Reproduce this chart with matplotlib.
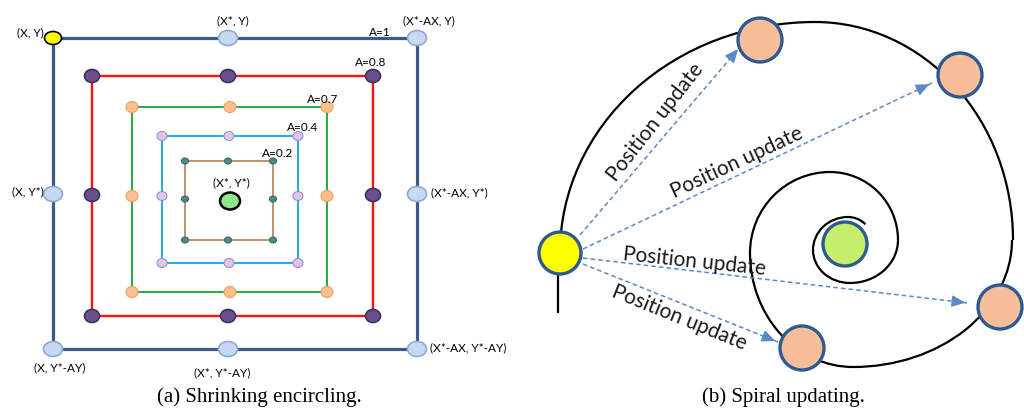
import matplotlib
matplotlib.use("Agg")
import matplotlib.pyplot as plt
from matplotlib.patches import Ellipse, Arc

# ---------- (a) shrinking encircling: nested squares, outer to inner ----------
a_labels = ["A=1", "A=0.8", "A=0.7", "A=0.4", "A=0.2"]
sq_left = [53, 92, 132, 162, 185]
sq_right = [417, 373, 327, 298, 273]
sq_top = [38, 76, 107, 136, 161]
sq_bottom = [349, 316, 292, 263, 240]
sq_midx = [228, 228, 230, 229, 228]
sq_midy = [194, 195, 196, 196, 199]

corner_labels = ["(X, Y)", "(X*, Y)", "(X*-AX, Y)", "(X, Y*)", "(X*-AX, Y*)",
                 "(X, Y*-AY)", "(X*, Y*-AY)", "(X*-AX, Y*-AY)", "(X*, Y*)"]
best_a = (230, 201)

# ---------- (b) spiral updating ----------
# spiral as quarter-ellipse pieces: centre x, centre y, rx, ry, start angle, end angle
spiral_cx = [815, 815, 853, 853, 830, 830, 850, 850, 848, 848]
spiral_cy = [253, 240, 240, 253, 253, 240, 240, 250, 250, 245]
spiral_rx = [255, 198, 159, 103, 80, 68, 48, 37, 35, 26]
spiral_ry = [231, 218, 127, 114, 81, 68, 43, 33, 33, 28]
spiral_t1 = [180, 270, 0, 90, 180, 270, 0, 90, 180, 270]
spiral_t2 = [270, 360, 90, 180, 270, 360, 90, 180, 270, 310]

whale = (560, 253)
prey = (845, 244)
new_x = [760, 960, 1000, 802]
new_y = [40, 75, 307, 348]
arrow_start = [(580, 235), (583, 249), (583, 258), (583, 264)]
arrow_end = [(740, 47), (932, 83), (968, 303), (778, 342)]
upd_text = ["Position update"] * 4
upd_pos = [(655, 122), (737, 163), (694, 262), (679, 318)]
upd_rot = [52, 25, -6, -22]

fig = plt.figure(figsize=(10.24, 4.11), dpi=100)
ax = fig.add_axes([0, 0, 1, 1])
ax.set_xlim(0, 1024)
ax.set_ylim(411, 0)
ax.axis("off")

line_cols = ["#3a5a8c", "#ff1010", "#2eaa4a", "#22aae2", "#b88050"]
line_w = [2.3, 1.7, 1.5, 1.4, 1.2]
mk_face = ["#c6d9f1", "#6a4f8c", "#fbc08e", "#d9c8ea", "#4c8b86"]
mk_edge = ["#8eaad6", "#3f3060", "#f0a060", "#a68cc5", "#3a6b67"]
mk_w = [19, 15, 12, 10, 7]
mk_h = [15, 13, 11, 9, 6]
lab_font = ["Lato", "DejaVu Sans"]

for i in range(len(a_labels)):
    l, r, t, b = sq_left[i], sq_right[i], sq_top[i], sq_bottom[i]
    ax.plot([l, r, r, l, l], [t, t, b, b, t], color=line_cols[i],
            lw=line_w[i], zorder=1, solid_joinstyle="miter")
    pts = [(l, t), (sq_midx[i], t), (r, t), (l, sq_midy[i]), (r, sq_midy[i]),
           (l, b), (sq_midx[i], b), (r, b)]
    for j, (px, py) in enumerate(pts):
        face = mk_face[i]
        edge = mk_edge[i]
        w, h = mk_w[i], mk_h[i]
        if i == 0 and j == 0:
            face, edge, w, h = "#ffff00", "black", 17, 13
        ax.add_patch(Ellipse((px, py), w, h, facecolor=face, edgecolor=edge,
                             lw=1.2 if i < 2 else 0.8, zorder=3))

ax.add_patch(Ellipse(best_a, 20, 17, facecolor="#8fe88a", edgecolor="black",
                     lw=1.8, zorder=3))

a_lab_pos = [(380, 32), (371, 62), (323, 99), (303, 127), (278, 153)]
for s, (px, py) in zip(a_labels, a_lab_pos):
    ax.text(px, py, s, fontsize=8.5, family=lab_font, ha="center", va="center")

c_lab_pos = [(44, 33), (233, 21), (429, 21), (44, 192), (431, 193),
             (60, 368), (222, 373), (430, 348), (231, 183)]
c_lab_ha = ["right", "center", "center", "right", "left",
            "center", "center", "left", "center"]
for s, (px, py), ha in zip(corner_labels, c_lab_pos, c_lab_ha):
    ax.text(px, py, s, fontsize=8.5, family=lab_font, ha=ha, va="center")

# spiral
for k in range(len(spiral_cx)):
    ax.add_patch(Arc((spiral_cx[k], spiral_cy[k]), 2 * spiral_rx[k],
                     2 * spiral_ry[k], theta1=spiral_t1[k], theta2=spiral_t2[k],
                     color="black", lw=1.6, zorder=1))
ax.plot([558, 558], [270, 312], color="black", lw=1.6, zorder=1)

arrow_col = "#5b8ac6"
for (x0, y0), (x1, y1) in zip(arrow_start, arrow_end):
    ax.plot([x0, x1], [y0, y1], color=arrow_col, lw=1.1, ls=(0, (3, 2)), zorder=2)
    fx = x1 - (x1 - x0) * 0.04
    fy = y1 - (y1 - y0) * 0.04
    ax.annotate("", xy=(x1, y1), xytext=(fx, fy),
                arrowprops=dict(arrowstyle="-|>,head_length=0.8,head_width=0.35",
                                color=arrow_col, lw=1.1), zorder=2)

for s, (px, py), rot in zip(upd_text, upd_pos, upd_rot):
    ax.text(px, py, s, fontsize=15, family=lab_font, ha="center", va="center",
            rotation=rot, rotation_mode="anchor", color="#1a1a1a", zorder=4)

for px, py in zip(new_x, new_y):
    ax.add_patch(Ellipse((px, py), 44, 44, facecolor="#f6be98",
                         edgecolor="#2e5a91", lw=2.4, zorder=3))
ax.add_patch(Ellipse(whale, 42, 42, facecolor="#ffff00", edgecolor="#2e5a91",
                     lw=2.4, zorder=3))
ax.add_patch(Ellipse(prey, 44, 44, facecolor="#c5ee6a", edgecolor="#2e5a91",
                     lw=2.4, zorder=3))

ax.text(259, 397, "(a) Shrinking encircling.", fontsize=15,
        family="Liberation Serif", ha="center", va="center")
ax.text(783, 397, "(b) Spiral updating.", fontsize=15,
        family="Liberation Serif", ha="center", va="center")

fig.savefig("out.png", dpi=100)
